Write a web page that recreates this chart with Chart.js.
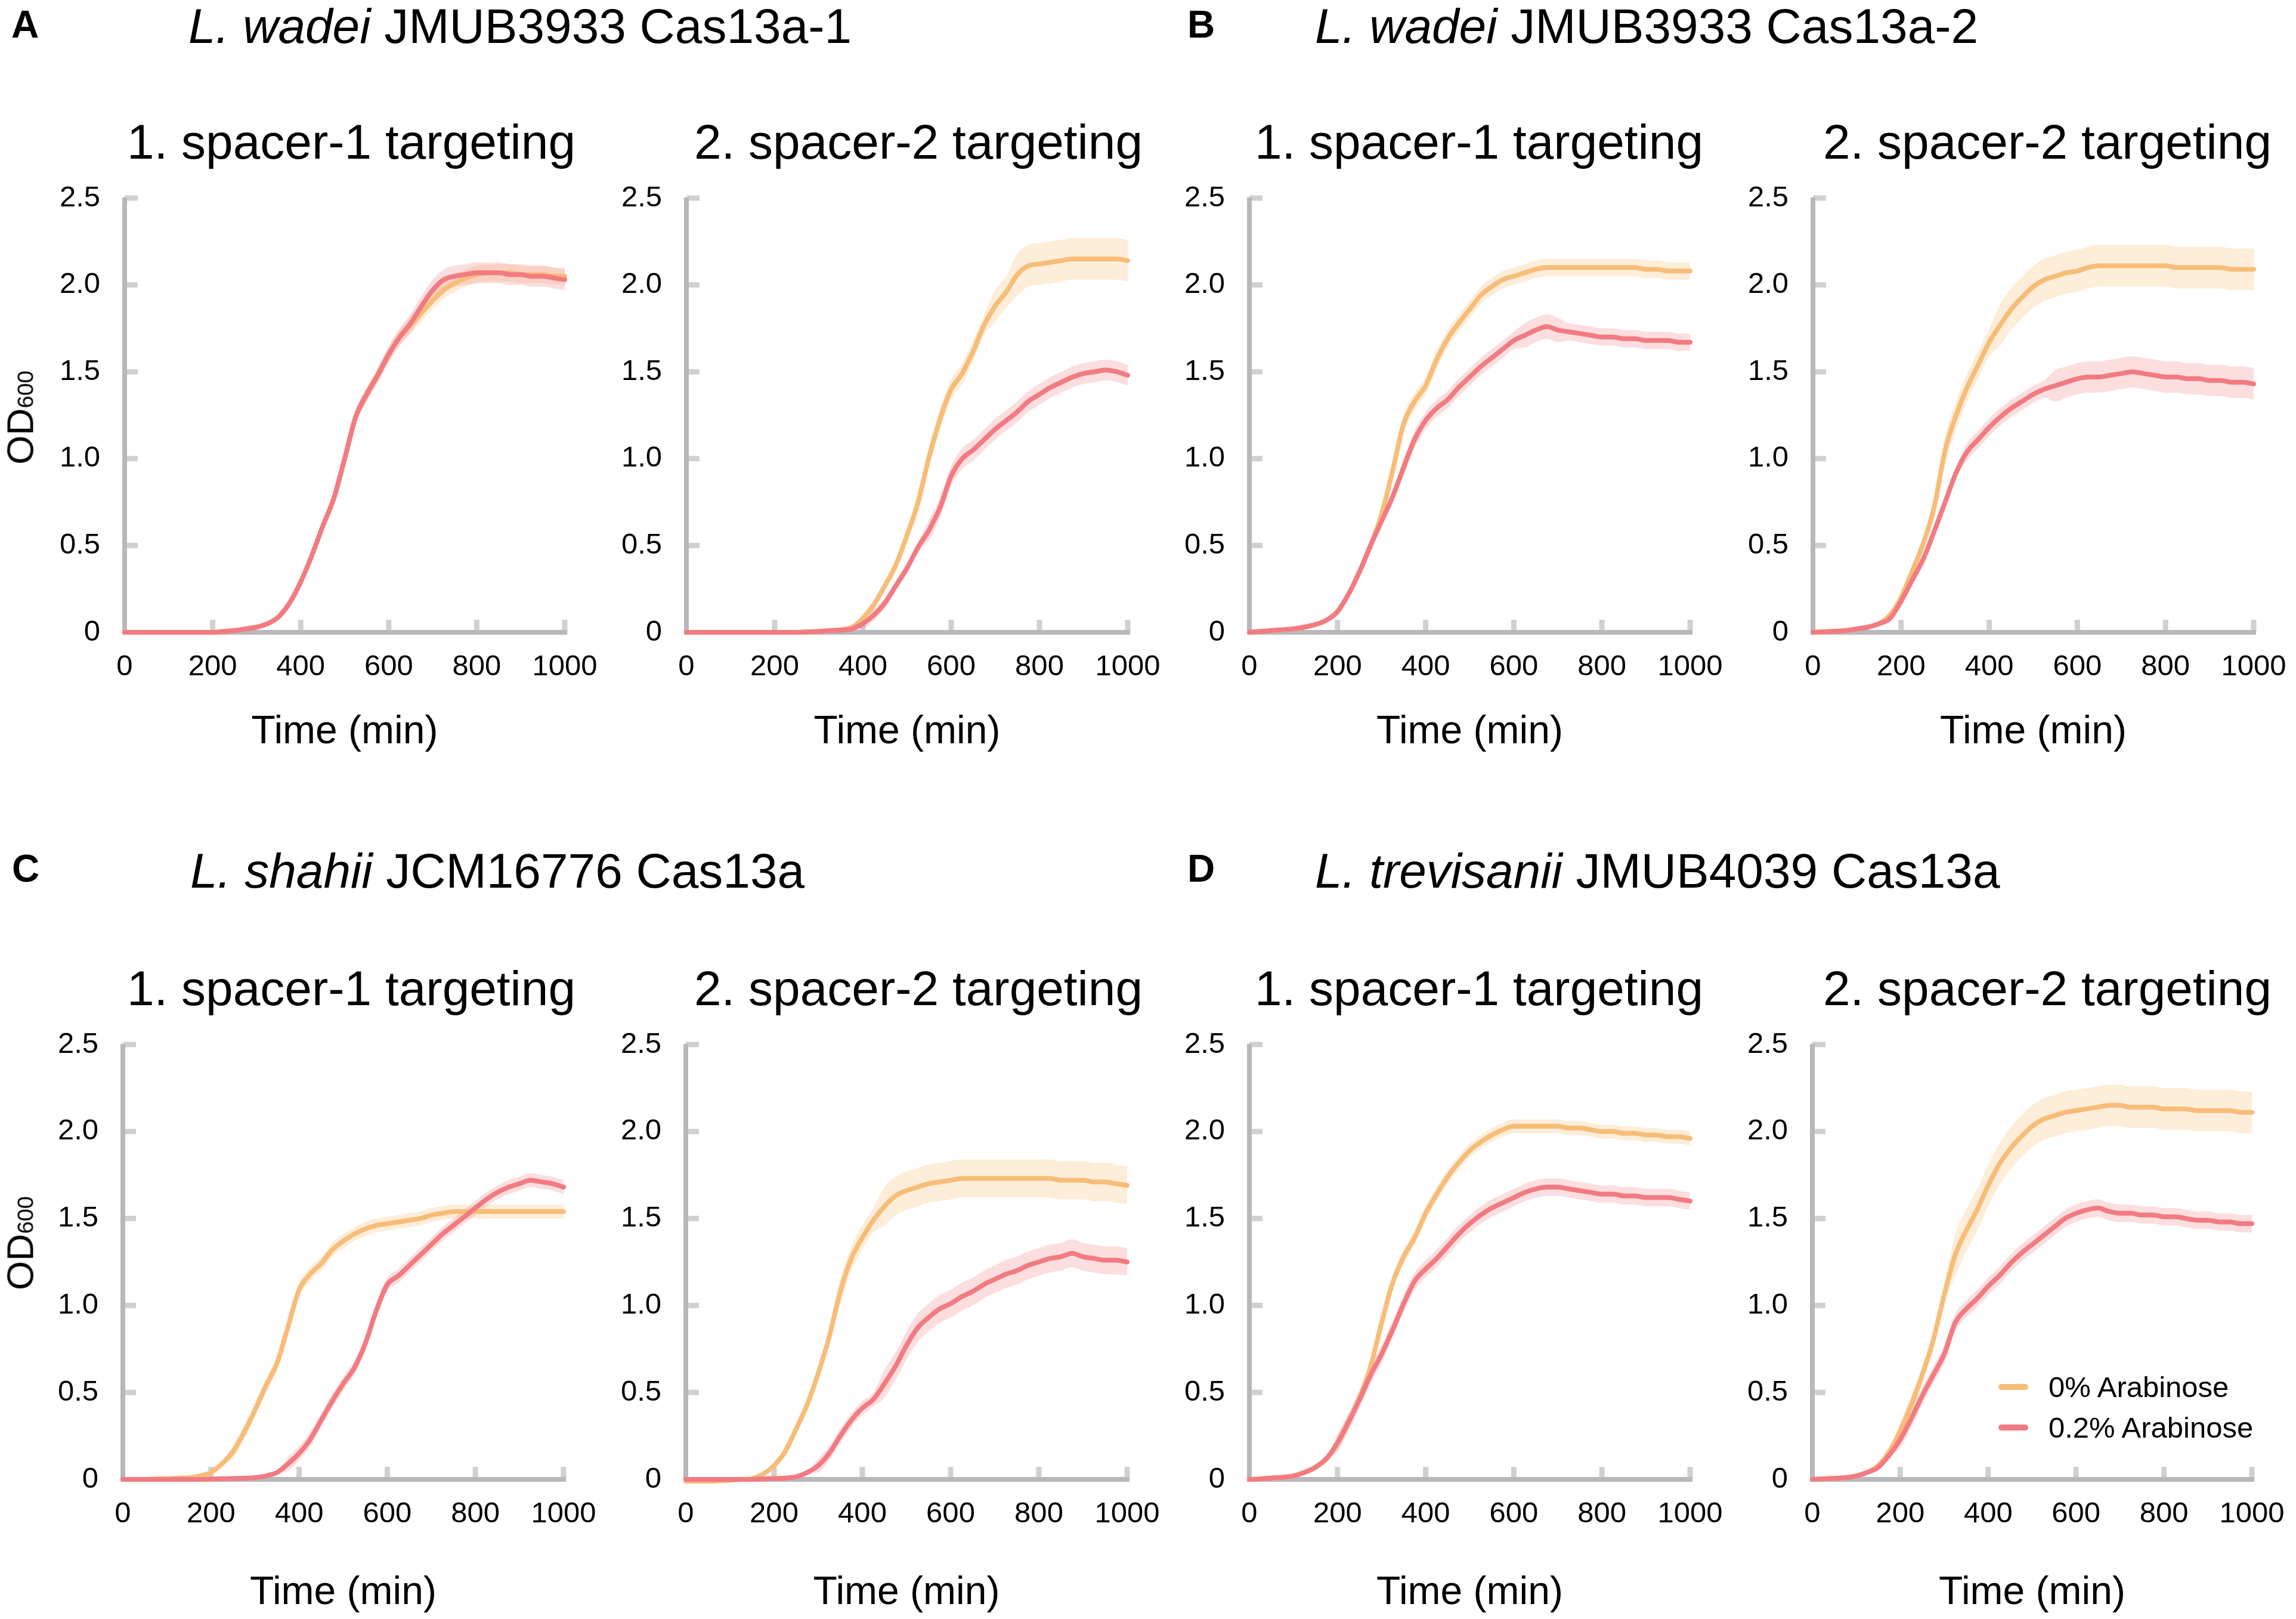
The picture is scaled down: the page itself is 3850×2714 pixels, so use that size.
<!DOCTYPE html>
<html>
<head>
<meta charset="utf-8">
<script src="https://cdn.jsdelivr.net/npm/chart.js@4.4.1/dist/chart.umd.min.js"></script>
<style>
html,body{margin:0;padding:0;background:#fff;}
#fig{position:relative;width:3850px;height:2714px;overflow:hidden;background:#fff;font-family:"Liberation Sans",Arial,Helvetica,sans-serif;color:#000;}
.t{position:absolute;white-space:nowrap;line-height:1;z-index:5;}
canvas{position:absolute;z-index:1;}
</style>
</head>
<body>
<div id="fig"></div>
<script>
// ---------------- DATA ----------------
const TIME_MIN = [0,25,50,75,100,125,150,175,200,225,250,275,300,325,350,375,400,425,450,475,500,525,550,575,600,625,650,675,700,725,750,775,800,825,850,875,900,925,950,975,1000];
const X_TICK_LABELS = ['0','200','400','600','800','1000'];
const Y_TICK_LABELS = ['0','0.5','1.0','1.5','2.0','2.5'];
const SERIES_NAMES = ['0% Arabinose','0.2% Arabinose'];

// A: L. wadei JMUB3933 Cas13a-1
const a1_ara0  = [0,0,0,0,0,0,0,0,0,0.005,0.01,0.02,0.03,0.05,0.09,0.17,0.29,0.44,0.61,0.77,1.00,1.24,1.37,1.48,1.60,1.70,1.77,1.84,1.91,1.97,2.01,2.04,2.06,2.07,2.07,2.07,2.06,2.06,2.06,2.05,2.05];
const a1_ara02 = [0,0,0,0,0,0,0,0,0,0.005,0.01,0.02,0.03,0.05,0.09,0.17,0.29,0.44,0.61,0.77,1.00,1.24,1.37,1.48,1.60,1.70,1.78,1.88,1.97,2.03,2.05,2.06,2.07,2.07,2.07,2.06,2.06,2.05,2.05,2.04,2.03];
const a2_ara0  = [0,0,0,0,0,0,0,0,0,0,0,0.003,0.005,0.01,0.015,0.03,0.08,0.16,0.27,0.39,0.56,0.75,1.01,1.23,1.40,1.49,1.62,1.77,1.88,1.96,2.06,2.11,2.12,2.13,2.14,2.15,2.15,2.15,2.15,2.15,2.14];
const a2_ara02 = [0,0,0,0,0,0,0,0,0,0,0,0.003,0.005,0.01,0.012,0.02,0.05,0.10,0.17,0.27,0.37,0.49,0.59,0.72,0.90,1.00,1.05,1.11,1.17,1.22,1.27,1.33,1.37,1.41,1.44,1.47,1.49,1.50,1.51,1.50,1.48];
// B: L. wadei JMUB3933 Cas13a-2
const b1_ara0  = [0,0.005,0.01,0.015,0.02,0.03,0.045,0.07,0.12,0.22,0.35,0.50,0.68,0.93,1.20,1.33,1.42,1.57,1.69,1.78,1.86,1.94,1.99,2.03,2.05,2.07,2.09,2.10,2.10,2.10,2.10,2.10,2.10,2.10,2.10,2.10,2.09,2.09,2.08,2.08,2.08];
const b1_ara02 = [0,0.005,0.01,0.015,0.02,0.03,0.045,0.07,0.12,0.22,0.35,0.50,0.64,0.78,0.95,1.11,1.22,1.29,1.34,1.41,1.47,1.53,1.58,1.63,1.68,1.71,1.74,1.76,1.74,1.73,1.72,1.71,1.70,1.70,1.69,1.69,1.68,1.68,1.68,1.67,1.67];
const b2_ara0  = [0,0.003,0.006,0.01,0.02,0.03,0.05,0.10,0.20,0.35,0.51,0.72,1.05,1.25,1.41,1.54,1.67,1.77,1.86,1.93,1.99,2.03,2.05,2.07,2.08,2.10,2.11,2.11,2.11,2.11,2.11,2.11,2.11,2.10,2.10,2.10,2.10,2.10,2.09,2.09,2.09];
const b2_ara02 = [0,0.003,0.006,0.01,0.02,0.03,0.05,0.08,0.18,0.30,0.42,0.58,0.75,0.92,1.04,1.11,1.18,1.24,1.29,1.33,1.37,1.40,1.42,1.44,1.46,1.47,1.47,1.48,1.49,1.50,1.49,1.48,1.47,1.47,1.46,1.46,1.45,1.45,1.44,1.44,1.43];
// C: L. shahii JCM16776 Cas13a
const c1_ara0  = [0,0,0,0.003,0.005,0.008,0.01,0.02,0.04,0.09,0.16,0.27,0.40,0.54,0.67,0.88,1.09,1.18,1.24,1.32,1.37,1.41,1.44,1.46,1.47,1.48,1.49,1.50,1.52,1.53,1.54,1.54,1.54,1.54,1.54,1.54,1.54,1.54,1.54,1.54,1.54];
const c1_ara02 = [0,0,0,0,0,0,0,0,0.003,0.004,0.005,0.007,0.01,0.02,0.04,0.09,0.15,0.23,0.34,0.45,0.55,0.64,0.78,0.97,1.12,1.17,1.23,1.29,1.35,1.41,1.46,1.51,1.56,1.61,1.65,1.68,1.70,1.72,1.71,1.70,1.68];
const c2_ara0  = [-0.01,-0.01,-0.01,-0.008,-0.005,0,0.005,0.03,0.08,0.16,0.29,0.43,0.61,0.82,1.08,1.27,1.39,1.49,1.57,1.63,1.66,1.68,1.70,1.71,1.72,1.73,1.73,1.73,1.73,1.73,1.73,1.73,1.73,1.73,1.72,1.72,1.72,1.71,1.71,1.70,1.69];
const c2_ara02 = [0,0,0,0,0,0,0,0.003,0.005,0.008,0.015,0.04,0.08,0.15,0.25,0.34,0.41,0.46,0.55,0.65,0.77,0.87,0.93,0.98,1.01,1.05,1.08,1.12,1.15,1.18,1.20,1.23,1.25,1.27,1.28,1.30,1.28,1.27,1.26,1.26,1.25];
// D: L. trevisanii JMUB4039 Cas13a
const d1_ara0  = [0,0.003,0.008,0.012,0.02,0.04,0.07,0.12,0.21,0.33,0.47,0.65,0.90,1.13,1.28,1.39,1.53,1.64,1.74,1.82,1.89,1.94,1.98,2.01,2.03,2.03,2.03,2.03,2.03,2.02,2.02,2.01,2.00,2.00,1.99,1.99,1.98,1.98,1.97,1.97,1.96];
const d1_ara02 = [0,0.003,0.008,0.012,0.02,0.04,0.07,0.12,0.21,0.33,0.46,0.60,0.72,0.86,1.01,1.14,1.21,1.27,1.34,1.41,1.47,1.52,1.56,1.59,1.62,1.65,1.67,1.68,1.68,1.67,1.66,1.65,1.64,1.64,1.63,1.63,1.62,1.62,1.62,1.61,1.60];
const d2_ara0  = [0,0.003,0.006,0.01,0.02,0.04,0.08,0.16,0.28,0.43,0.60,0.80,1.06,1.29,1.43,1.55,1.69,1.81,1.90,1.97,2.03,2.07,2.09,2.11,2.12,2.13,2.14,2.15,2.15,2.14,2.14,2.14,2.13,2.13,2.13,2.12,2.12,2.12,2.12,2.11,2.11];
const d2_ara02 = [0,0.003,0.006,0.01,0.02,0.04,0.07,0.14,0.23,0.35,0.48,0.60,0.72,0.90,0.98,1.04,1.11,1.17,1.24,1.30,1.35,1.40,1.45,1.50,1.53,1.55,1.56,1.54,1.53,1.53,1.52,1.52,1.51,1.51,1.50,1.49,1.49,1.48,1.48,1.47,1.47];

// standard-deviation half widths of the shaded bands
const a1_ara0_sd  = [0,0,0,0,0,0,0,0,0,0,0.005,0.005,0.01,0.01,0.015,0.02,0.02,0.025,0.03,0.03,0.035,0.04,0.04,0.04,0.045,0.045,0.05,0.05,0.05,0.05,0.05,0.05,0.05,0.05,0.05,0.05,0.05,0.05,0.05,0.05,0.05];
const a1_ara02_sd = [0,0,0,0,0,0,0,0,0,0,0.005,0.005,0.01,0.01,0.015,0.02,0.02,0.025,0.03,0.03,0.035,0.04,0.04,0.04,0.045,0.05,0.055,0.06,0.06,0.06,0.06,0.06,0.06,0.06,0.06,0.06,0.06,0.06,0.06,0.06,0.06];
const a2_ara0_sd  = [0.005,0.005,0.005,0.005,0.005,0.005,0.005,0.005,0.005,0.005,0.005,0.005,0.005,0.005,0.005,0.005,0.03,0.03,0.03,0.03,0.03,0.06,0.06,0.06,0.06,0.06,0.06,0.06,0.09,0.09,0.12,0.12,0.12,0.12,0.12,0.12,0.12,0.12,0.12,0.12,0.12];
const a2_ara02_sd = [0.005,0.005,0.005,0.005,0.005,0.005,0.005,0.005,0.005,0.005,0.005,0.005,0.005,0.005,0.005,0.005,0.03,0.03,0.03,0.03,0.03,0.03,0.06,0.06,0.06,0.06,0.06,0.06,0.06,0.06,0.06,0.06,0.06,0.06,0.06,0.06,0.06,0.06,0.06,0.06,0.06];
const b1_ara0_sd  = [0.005,0.005,0.005,0.005,0.005,0.005,0.005,0.005,0.02,0.02,0.02,0.02,0.02,0.02,0.05,0.05,0.05,0.05,0.05,0.05,0.05,0.05,0.05,0.05,0.05,0.05,0.05,0.05,0.05,0.05,0.05,0.05,0.05,0.05,0.05,0.05,0.05,0.05,0.05,0.05,0.05];
const b1_ara02_sd = [0.005,0.005,0.005,0.005,0.005,0.005,0.005,0.005,0.02,0.02,0.02,0.02,0.02,0.02,0.05,0.05,0.05,0.05,0.05,0.05,0.05,0.05,0.05,0.05,0.05,0.07,0.07,0.07,0.07,0.05,0.05,0.05,0.05,0.05,0.05,0.05,0.05,0.05,0.05,0.05,0.05];
const b2_ara0_sd  = [0.005,0.005,0.005,0.005,0.005,0.005,0.005,0.005,0.04,0.04,0.04,0.04,0.08,0.08,0.08,0.08,0.08,0.12,0.12,0.12,0.12,0.12,0.12,0.12,0.12,0.12,0.12,0.12,0.12,0.12,0.12,0.12,0.12,0.12,0.12,0.12,0.12,0.12,0.12,0.12,0.12];
const b2_ara02_sd = [0.005,0.005,0.005,0.005,0.005,0.005,0.005,0.005,0.03,0.03,0.03,0.03,0.03,0.03,0.05,0.05,0.05,0.05,0.05,0.05,0.05,0.05,0.09,0.09,0.09,0.09,0.09,0.09,0.09,0.09,0.09,0.09,0.09,0.09,0.09,0.09,0.09,0.09,0.09,0.09,0.09];
const c1_ara0_sd  = [0.005,0.005,0.005,0.005,0.005,0.005,0.005,0.005,0.005,0.005,0.04,0.04,0.04,0.04,0.04,0.04,0.04,0.04,0.04,0.04,0.04,0.04,0.04,0.04,0.04,0.04,0.04,0.04,0.04,0.04,0.04,0.04,0.04,0.04,0.04,0.04,0.04,0.04,0.04,0.04,0.04];
const c1_ara02_sd = [0.005,0.005,0.005,0.005,0.005,0.005,0.005,0.005,0.005,0.005,0.005,0.005,0.005,0.005,0.005,0.04,0.04,0.04,0.04,0.04,0.04,0.04,0.04,0.04,0.04,0.04,0.04,0.04,0.04,0.04,0.04,0.04,0.04,0.04,0.04,0.04,0.04,0.04,0.04,0.04,0.04];
const c2_ara0_sd  = [0.005,0.005,0.005,0.005,0.005,0.005,0.005,0.005,0.005,0.03,0.03,0.03,0.03,0.03,0.07,0.07,0.07,0.07,0.11,0.11,0.11,0.11,0.11,0.11,0.11,0.11,0.11,0.11,0.11,0.11,0.11,0.11,0.11,0.11,0.11,0.11,0.11,0.11,0.11,0.11,0.11];
const c2_ara02_sd = [0.005,0.005,0.005,0.005,0.005,0.005,0.005,0.005,0.005,0.005,0.005,0.005,0.04,0.04,0.04,0.04,0.04,0.04,0.08,0.08,0.08,0.08,0.08,0.08,0.08,0.08,0.08,0.08,0.08,0.08,0.08,0.08,0.08,0.08,0.08,0.08,0.08,0.08,0.08,0.08,0.08];
const d1_ara0_sd  = [0.005,0.005,0.005,0.005,0.005,0.005,0.005,0.005,0.04,0.04,0.04,0.04,0.04,0.04,0.04,0.04,0.04,0.04,0.04,0.04,0.04,0.04,0.04,0.04,0.04,0.04,0.04,0.04,0.04,0.04,0.04,0.04,0.04,0.04,0.04,0.04,0.04,0.04,0.04,0.04,0.04];
const d1_ara02_sd = [0.005,0.005,0.005,0.005,0.005,0.005,0.005,0.005,0.05,0.05,0.05,0.05,0.05,0.05,0.05,0.05,0.05,0.05,0.05,0.05,0.05,0.05,0.05,0.05,0.05,0.05,0.05,0.05,0.05,0.05,0.05,0.05,0.05,0.05,0.05,0.05,0.05,0.05,0.05,0.05,0.05];
const d2_ara0_sd  = [0.005,0.005,0.005,0.005,0.005,0.005,0.005,0.005,0.05,0.05,0.05,0.05,0.05,0.12,0.12,0.12,0.12,0.12,0.12,0.12,0.12,0.12,0.12,0.12,0.12,0.12,0.12,0.12,0.12,0.12,0.12,0.12,0.12,0.12,0.12,0.12,0.12,0.12,0.12,0.12,0.12];
const d2_ara02_sd = [0.005,0.005,0.005,0.005,0.005,0.005,0.005,0.005,0.05,0.05,0.05,0.05,0.05,0.05,0.05,0.05,0.05,0.05,0.05,0.05,0.05,0.05,0.05,0.05,0.05,0.05,0.05,0.05,0.05,0.05,0.05,0.05,0.05,0.05,0.05,0.05,0.05,0.05,0.05,0.05,0.05];

const PANEL_LETTERS = ['A','B','C','D'];
const PANEL_SPECIES = ['L. wadei','L. wadei','L. shahii','L. trevisanii'];
const PANEL_STRAINS = [' JMUB3933 Cas13a-1',' JMUB3933 Cas13a-2',' JCM16776 Cas13a',' JMUB4039 Cas13a'];
const SUBPLOT_TITLES = ['1. spacer-1 targeting','2. spacer-2 targeting'];
const X_TITLE = 'Time (min)';

// ---------------- STYLE / LAYOUT ----------------
const FONT = '"Liberation Sans", Arial, Helvetica, sans-serif';
const ORANGE = '#F7BD78', RED = '#F27B81';
const ORANGE_BAND = 'rgba(249,190,120,0.28)', RED_BAND = 'rgba(242,123,129,0.25)';
const AXIS_COLOR = '#B8B8BC', TICK_COLOR = '#D0D0D0';
// canvas margins around the plot box (must exceed the scales' own label overhang)
const PADL = 200, PADR = 100, PADT = 80, XAXH = 250;

const PANELS = [
  {x0:209,  x1:947,  y0:1060, yTop:332,  o:a1_ara0, r:a1_ara02, osd:a1_ara0_sd, rsd:a1_ara02_sd, title:0, tcx:589,  tb:266,  xtp:43},
  {x0:1151, x1:1891, y0:1060, yTop:332,  o:a2_ara0, r:a2_ara02, osd:a2_ara0_sd, rsd:a2_ara02_sd, title:1, tcx:1540, tb:266,  xtp:43},
  {x0:2095, x1:2834, y0:1060, yTop:332,  o:b1_ara0, r:b1_ara02, osd:b1_ara0_sd, rsd:b1_ara02_sd, title:0, tcx:2480, tb:266,  xtp:43},
  {x0:3040, x1:3779, y0:1060, yTop:332,  o:b2_ara0, r:b2_ara02, osd:b2_ara0_sd, rsd:b2_ara02_sd, title:1, tcx:3433, tb:266,  xtp:43},
  {x0:206,  x1:945,  y0:2480, yTop:1751, o:c1_ara0, r:c1_ara02, osd:c1_ara0_sd, rsd:c1_ara02_sd, title:0, tcx:589,  tb:1685, xtp:20},
  {x0:1150, x1:1890, y0:2480, yTop:1751, o:c2_ara0, r:c2_ara02, osd:c2_ara0_sd, rsd:c2_ara02_sd, title:1, tcx:1540, tb:1685, xtp:20},
  {x0:2095, x1:2834, y0:2480, yTop:1751, o:d1_ara0, r:d1_ara02, osd:d1_ara0_sd, rsd:d1_ara02_sd, title:0, tcx:2480, tb:1685, xtp:20},
  {x0:3039, x1:3776, y0:2480, yTop:1751, o:d2_ara0, r:d2_ara02, osd:d2_ara0_sd, rsd:d2_ara02_sd, title:1, tcx:3433, tb:1685, xtp:20}
];
const HEADINGS = [ {x:316, b:72}, {x:2205, b:72}, {x:319, b:1488}, {x:2205, b:1488} ];
const LETTERS  = [ {x:19, b:63}, {x:1991, b:63}, {x:20, b:1478}, {x:1991, b:1478} ];
const OD_LABELS = [ {cx:34, cy:700}, {cx:34, cy:2084} ];

const fig = document.getElementById('fig');
const BASE = 0.8465; // baseline offset (em) in a line-height:1 box for Liberation Sans

function addText(html, left, baseline, size, extra) {
  const d = document.createElement('div');
  d.className = 't';
  d.innerHTML = html;
  d.style.left = left + 'px';
  d.style.top = (baseline - BASE * size) + 'px';
  d.style.fontSize = size + 'px';
  if (extra) Object.assign(d.style, extra);
  fig.appendChild(d);
  return d;
}

PANEL_LETTERS.forEach((L, i) => addText(L, LETTERS[i].x, LETTERS[i].b, 64, {fontWeight:'bold'}));
PANEL_SPECIES.forEach((sp, i) => addText('<i>' + sp + '</i>' + PANEL_STRAINS[i], HEADINGS[i].x, HEADINGS[i].b, 82));

OD_LABELS.forEach(p => {
  const d = document.createElement('div');
  d.className = 't';
  d.innerHTML = 'OD<span style="font-size:0.6em">600</span>';
  d.style.fontSize = '63px';
  d.style.left = p.cx + 'px';
  d.style.top = p.cy + 'px';
  d.style.transform = 'translate(-50%,-50%) rotate(-90deg)';
  fig.appendChild(d);
});

// axis lines + inward ticks drawn from the chart's own scales
const axisPlugin = {
  id: 'innerAxes',
  beforeDatasetsDraw(chart) {
    const {ctx} = chart; const xs = chart.scales.x, ys = chart.scales.y;
    const X0 = xs.getPixelForValue(0), Y0 = ys.getPixelForValue(0);
    const XE = xs.getPixelForValue(1000), YT = ys.getPixelForValue(2.5);
    ctx.save();
    ctx.lineCap = 'butt';
    ctx.strokeStyle = TICK_COLOR; ctx.lineWidth = 9;
    xs.ticks.forEach(t => {
      if (t.value === 0) return;
      const px = xs.getPixelForValue(t.value);
      ctx.beginPath(); ctx.moveTo(px, Y0); ctx.lineTo(px, Y0 - 21); ctx.stroke();
    });
    ys.ticks.forEach(t => {
      if (t.value === 0) return;
      const py = ys.getPixelForValue(t.value);
      ctx.beginPath(); ctx.moveTo(X0, py); ctx.lineTo(X0 + 22, py); ctx.stroke();
    });
    ctx.strokeStyle = AXIS_COLOR; ctx.lineWidth = 8;
    ctx.beginPath(); ctx.moveTo(X0, YT - 1); ctx.lineTo(X0, Y0 + 4); ctx.stroke();
    ctx.beginPath(); ctx.moveTo(X0 - 4, Y0); ctx.lineTo(XE + 4, Y0); ctx.stroke();
    ctx.restore();
  }
};

Chart.defaults.font.family = FONT;
Chart.defaults.color = '#000';

function pts(mean, sd, sign) {
  return TIME_MIN.map((t, i) => ({x: t, y: mean[i] + sign * (sd ? sd[i] : 0)}));
}

PANELS.forEach(p => {
  const W = (p.x1 - p.x0) + PADL + PADR;
  const H = (p.y0 - p.yTop) + PADT + XAXH;
  const cv = document.createElement('canvas');
  cv.width = W; cv.height = H;
  cv.style.width = W + 'px'; cv.style.height = H + 'px';
  cv.style.left = (p.x0 - PADL) + 'px';
  cv.style.top = (p.yTop - PADT) + 'px';
  fig.appendChild(cv);

  const bandCommon = {borderWidth: 0, borderColor: 'rgba(0,0,0,0)', pointRadius: 0, clip: false, cubicInterpolationMode: 'monotone'};
  const lineCommon = {borderWidth: 8, pointRadius: 0, fill: false, clip: false, cubicInterpolationMode: 'monotone', borderCapStyle: 'round', borderJoinStyle: 'round'};

  new Chart(cv, {
    type: 'line',
    data: {
      datasets: [
        Object.assign({label: SERIES_NAMES[0] + ' +SD', data: pts(p.o, p.osd, 1), fill: '+1', backgroundColor: ORANGE_BAND, order: 10}, bandCommon),
        Object.assign({label: SERIES_NAMES[0] + ' -SD', data: pts(p.o, p.osd, -1), fill: false, order: 10}, bandCommon),
        Object.assign({label: SERIES_NAMES[1] + ' +SD', data: pts(p.r, p.rsd, 1), fill: '+1', backgroundColor: RED_BAND, order: 9}, bandCommon),
        Object.assign({label: SERIES_NAMES[1] + ' -SD', data: pts(p.r, p.rsd, -1), fill: false, order: 9}, bandCommon),
        Object.assign({label: SERIES_NAMES[0], data: pts(p.o, null, 0), borderColor: ORANGE, order: 2}, lineCommon),
        Object.assign({label: SERIES_NAMES[1], data: pts(p.r, null, 0), borderColor: RED, order: 1}, lineCommon)
      ]
    },
    options: {
      responsive: false, animation: false, devicePixelRatio: 1,
      layout: {autoPadding: false, padding: {left: 0, right: PADR, top: PADT, bottom: 0}},
      plugins: {legend: {display: false}, tooltip: {enabled: false}, title: {display: false}},
      scales: {
        x: {
          type: 'linear', min: 0, max: 1000,
          afterFit: s => { s.height = XAXH; },
          grid: {display: false, drawTicks: false}, border: {display: false},
          ticks: {stepSize: 200, autoSkip: false, maxRotation: 0, padding: 29, color: '#000',
                  font: {family: FONT, size: 49}, callback: (v, i) => X_TICK_LABELS[i]},
          title: {display: true, text: X_TITLE, color: '#000', font: {family: FONT, size: 66},
                  padding: {top: 0, bottom: p.xtp}}
        },
        y: {
          type: 'linear', min: 0, max: 2.5,
          afterFit: s => { s.width = PADL; },
          grid: {display: false, drawTicks: false}, border: {display: false},
          ticks: {stepSize: 0.5, autoSkip: false, padding: 41, color: '#000',
                  font: {family: FONT, size: 49}, callback: (v, i) => Y_TICK_LABELS[i]}
        }
      }
    },
    plugins: [axisPlugin]
  });

  addText(SUBPLOT_TITLES[p.title], p.tcx, p.tb, 82, {transform: 'translateX(-50%)'});
});

// Legend (inside panel D, spacer-2)
const LEGEND_POS = [ {y:2325}, {y:2393} ];
[ORANGE, RED].forEach((c, i) => {
  const ln = document.createElement('div');
  ln.style.cssText = 'position:absolute;z-index:5;left:3351px;width:50px;height:10px;border-radius:5px;background:' + c + ';top:' + (LEGEND_POS[i].y - 5) + 'px;';
  fig.appendChild(ln);
  addText(SERIES_NAMES[i], 3435, LEGEND_POS[i].y + 17.5, 49);
});
</script>
</body>
</html>
